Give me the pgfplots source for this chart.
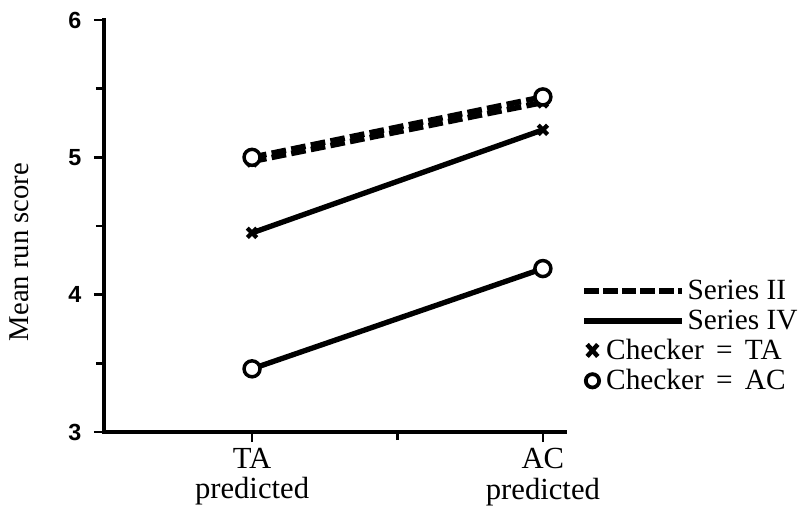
\documentclass[border=0pt]{standalone}
\usepackage{fontspec}
\setmainfont{Liberation Serif}
\newfontfamily\tickfont{Liberation Sans}
\usepackage{pgfplots}
\pgfplotsset{compat=1.18}
\begin{document}
\begin{tikzpicture}
\begin{axis}[
  scale only axis,
  width=345.75pt, height=309pt,
  xmin=0.491, xmax=2.076,
  ymin=3, ymax=6,
  axis lines*=left,
  axis line style={line width=2.8pt, line cap=rect},
  tick align=outside,
  major tick length=7.5pt,
  minor tick length=6pt,
  every tick/.style={line width=2pt, black},
  xtick={1,2},
  minor xtick={1.5},
  xticklabels={{TA\\predicted},{AC\\predicted}},
  xticklabel style={align=center, font=\fontsize{23}{23}\selectfont, yshift=-1pt},
  ytick={3,4,5,6},
  minor ytick={3.5,4.5,5.5},
  yticklabel style={font=\tickfont\bfseries\fontsize{17.5}{17.5}\selectfont, xshift=-6pt},
  /pgf/number format/assume math mode=true,
  ylabel={Mean run score},
  ylabel style={at={(axis description cs:-0.184,0.437)}, anchor=center, font=\fontsize{21.5}{24}\selectfont},
  legend style={draw=none, fill=none, at={(axis description cs:1.035,0.375)}, anchor=north west,
    font=\fontsize{22}{22}\selectfont, inner sep=0pt, row sep=2pt, cells={anchor=west}},
  legend cell align=left,
  clip=false,
]
% Series II (dashed)
\addplot[black, line width=4.2pt, dash pattern=on 11pt off 4pt, mark=x, mark size=5pt,
  mark options={solid, line width=3.2pt}, forget plot] coordinates {(1,4.97) (2,5.40)};
\addplot[black, line width=4.2pt, dash pattern=on 11pt off 4pt, mark=*, mark size=6pt,
  mark options={solid, fill=white, line width=2.6pt}, forget plot] coordinates {(1,5.00) (2,5.44)};
% Series IV (solid)
\addplot[black, line width=4pt, mark=x, mark size=5pt,
  mark options={solid, line width=3.2pt}, forget plot] coordinates {(1,4.45) (2,5.20)};
\addplot[black, line width=4pt, mark=*, mark size=6pt,
  mark options={solid, fill=white, line width=2.6pt}, forget plot] coordinates {(1,3.46) (2,4.19)};
% legend
\addlegendimage{legend image code/.code={\draw[black, line width=4pt, dash pattern=on 11pt off 3pt] (0pt,0pt) -- (73pt,0pt);}}
\addlegendentry{Series II}
\addlegendimage{legend image code/.code={\draw[black, line width=4.6pt] (0pt,0pt) -- (73pt,0pt);}}
\addlegendentry{Series IV}
\addlegendimage{legend image code/.code={\draw[black, line width=3.4pt] (2pt,-4.5pt) -- (10pt,4.5pt) (2pt,4.5pt) -- (10pt,-4.5pt); \path (73pt,0pt);}}
\addlegendentry{\hspace*{-61pt}Checker\ \,=\ \,TA}
\addlegendimage{legend image code/.code={\draw[black, line width=2.8pt, fill=white] (6pt,0pt) circle (5pt); \path (73pt,0pt);}}
\addlegendentry{\hspace*{-61pt}Checker\ \,=\ \,AC}
\end{axis}
\pgfresetboundingbox
\path (current axis.south west) ++(-78pt,-56.25pt) rectangle ++(600pt,380.25pt);
\end{tikzpicture}
\end{document}
